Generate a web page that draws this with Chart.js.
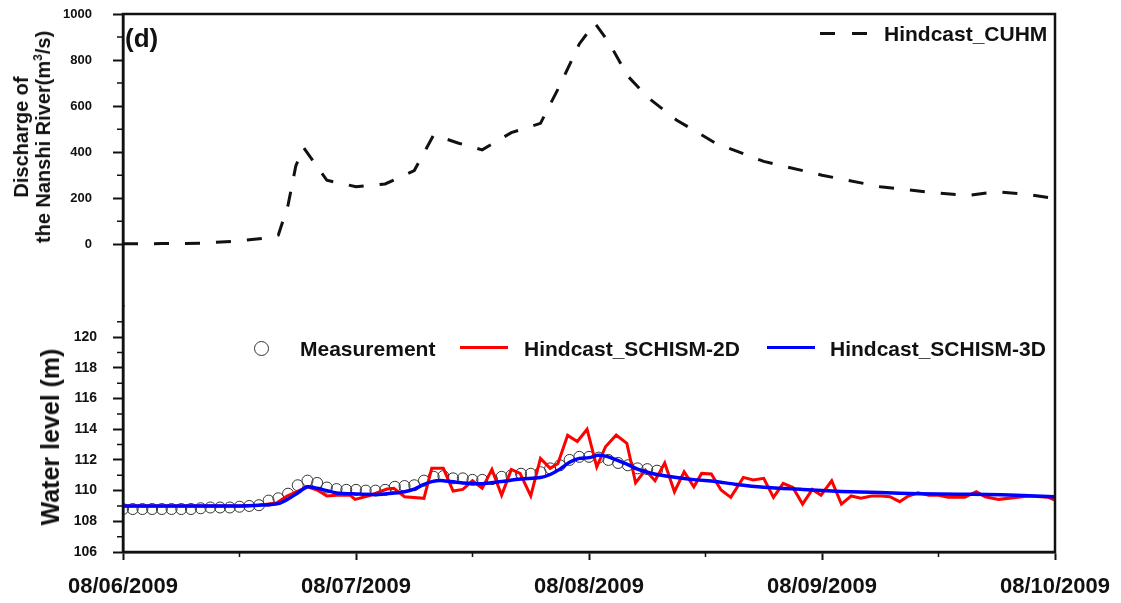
<!DOCTYPE html>
<html lang="en">
<head>
    <meta charset="UTF-8">
    <title>Discharge and water level, Nanshi River</title>
    <style>
        body {
            margin: 0;
            padding: 0;
            background: #fff;
            font-family: "Liberation Sans", Arial, sans-serif;
            overflow: hidden;
        }
        .wrap {
            position: relative;
            width: 1121px;
            height: 603px;
        }
        .lbl {
            position: absolute;
            font-weight: bold;
            color: #111;
            white-space: nowrap;
        }
        .ytitle {
            position: absolute;
            font-weight: bold;
            color: #111;
            white-space: nowrap;
            text-align: center;
            transform: translate(-50%, -50%) rotate(-90deg);
        }
        .sample {
            position: absolute;
            height: 0;
        }
    </style>
    <script src="https://cdn.jsdelivr.net/npm/chart.js"></script>
</head>
<body>

<div class="wrap">
    <canvas id="chart"></canvas>

    <!-- panel label -->
    <div class="lbl" style="left:125px; top:25px; font-size:26px; line-height:26px;">(d)</div>

    <!-- y titles -->
    <div class="ytitle" style="left:32px; top:137px; font-size:20px; line-height:22px;">Discharge of<br>the Nanshi River(m<sup style="font-size:12px; line-height:0;">3</sup>/s)</div>
    <div class="ytitle" style="left:50px; top:437px; font-size:25px; line-height:28px;">Water level (m)</div>

    <!-- top legend -->
    <div class="sample" style="left:820px; top:32px; width:15px; border-top:3px solid #111;"></div>
    <div class="sample" style="left:852px; top:32px; width:15px; border-top:3px solid #111;"></div>
    <div class="lbl" style="left:884px; top:23px; font-size:21px; line-height:21px;">Hindcast_CUHM</div>

    <!-- bottom legend -->
    <div class="sample" style="left:254px; top:341px; width:13px; height:13px; border:1.3px solid #333; border-radius:50%;"></div>
    <div class="lbl" style="left:300px; top:338px; font-size:21px; line-height:21px;">Measurement</div>
    <div class="sample" style="left:460px; top:346px; width:48px; border-top:3px solid #ff0000;"></div>
    <div class="lbl" style="left:524px; top:338px; font-size:21px; line-height:21px;">Hindcast_SCHISM-2D</div>
    <div class="sample" style="left:767px; top:346px; width:48px; border-top:3px solid #0000ff;"></div>
    <div class="lbl" style="left:830px; top:338px; font-size:21px; line-height:21px;">Hindcast_SCHISM-3D</div>
</div>

<script>
    // x axis: hours since 08/06/2009 00:00
    const dayHours = [0, 24, 48, 72, 96];
    const dateLabels = ['08/06/2009', '08/07/2009', '08/08/2009', '08/09/2009', '08/10/2009'];
    const halfDayHours = [12, 36, 60, 84];

    // discharge of the Nanshi River (m3/s), Hindcast_CUHM
    const dischargeHours = [0, 4, 8, 12, 15, 16, 17, 17.8, 18.6, 21, 24, 27, 30, 32, 34.5, 37, 40, 43, 45, 47, 48.6, 50, 52, 54, 57, 61, 66, 72, 78, 84, 87, 90, 93, 96];
    const dischargeValues = [2, 3, 4, 15, 28, 40, 170, 340, 420, 278, 250, 262, 320, 475, 440, 410, 485, 525, 690, 870, 960, 880, 730, 640, 540, 440, 360, 300, 250, 222, 212, 228, 218, 198];

    // water level measurement, hourly from 08/06 00:00
    const measuredLevel = [
        108.8, 108.8, 108.8, 108.8, 108.8, 108.8, 108.8, 108.8, 108.85, 108.9,
        108.9, 108.9, 108.95, 109.0, 109.05, 109.35, 109.5, 109.8, 110.35, 110.65,
        110.5, 110.2, 110.1, 110.05, 110.05, 110.0, 110.0, 110.05, 110.25, 110.3,
        110.35, 110.65, 110.9, 110.95, 110.8, 110.8, 110.7, 110.7, 110.75, 110.9,
        111.0, 111.1, 111.1, 111.2, 111.45, 111.65, 112.0, 112.2, 112.2, 112.15,
        112.0, 111.8, 111.65, 111.45, 111.4, 111.3
    ];

    // Hindcast_SCHISM-2D
    const hours2D = [0, 12, 14, 15.8, 16.9, 19, 20, 21, 22, 23.4, 23.9, 25.5, 27.2, 27.9, 29, 31, 31.8, 33, 34, 35,
        36, 37, 38, 39, 40, 40.9, 42, 43, 44, 44.8, 45.8, 46.8, 47.8, 48.8, 49.7, 50.8, 51.9, 52.8, 53.8, 54.8,
        55.8, 56.8, 57.8, 58.8, 59.6, 60.6, 61.6, 62.6, 63.9, 64.9, 66, 67, 68, 69, 70, 71, 71.9, 73, 74, 75,
        76, 77.1, 78.1, 79, 80, 80.9, 81.9, 83, 84, 85, 86.7, 87.9, 88.8, 90.2, 92.2, 93.3, 95.3, 96];
    const level2D = [109.0, 109.0, 109.05, 109.2, 109.65, 110.25, 110.04, 109.65, 109.7, 109.7, 109.43, 109.7, 110.1, 110.15, 109.6, 109.5, 111.45, 111.45, 109.97, 110.08,
        110.64, 110.15, 111.38, 109.7, 111.38, 111.12, 109.65, 112.1, 111.45, 111.77, 113.6, 113.2, 114.0, 111.55, 112.86, 113.62, 113.08, 110.51, 111.34, 110.64,
        111.8, 109.93, 111.23, 110.25, 111.12, 111.08, 110.04, 109.56, 110.86, 110.69, 110.8, 109.56, 110.47, 110.2, 109.12, 110.08, 109.7, 110.64, 109.12, 109.65,
        109.5, 109.65, 109.65, 109.6, 109.28, 109.65, 109.86, 109.7, 109.7, 109.56, 109.56, 109.93, 109.6, 109.43, 109.56, 109.65, 109.56, 109.38];

    // Hindcast_SCHISM-3D
    const hours3D = [0, 6, 12, 14, 15, 16, 17, 18, 19, 20, 21, 22, 24, 26, 28, 29, 30, 31, 32, 33,
        35, 37, 39, 41, 43, 44, 45, 46, 47, 48, 49, 50, 51, 52, 53, 54, 55, 57, 59, 61,
        63, 66, 70, 74, 78, 82, 86, 89, 92, 96];
    const level3D = [109.0, 109.0, 109.0, 109.05, 109.08, 109.15, 109.45, 109.85, 110.25, 110.15, 110.0, 109.85, 109.78, 109.75, 109.85, 109.93, 110.1, 110.4, 110.62, 110.65,
        110.5, 110.45, 110.6, 110.75, 110.85, 111.05, 111.4, 111.85, 112.1, 112.15, 112.3, 112.2, 111.95, 111.7, 111.4, 111.2, 111.05, 110.85, 110.7, 110.6,
        110.42, 110.22, 110.08, 109.95, 109.87, 109.8, 109.76, 109.75, 109.7, 109.6];

    // axis ticks
    const dischargeTicks = [0, 200, 400, 600, 800, 1000];
    const dischargeMinor = [100, 300, 500, 700, 900];
    const levelTicks = [106, 108, 110, 112, 114, 116, 118, 120];
    const levelMinor = [107, 109, 111, 113, 115, 117, 119, 121];

    const fontFamily = '"Liberation Sans", Arial, sans-serif';

    function pairs(xs, ys) {
        return xs.map((x, i) => ({ x: x, y: ys[i] }));
    }

    // fixed axis sizes so the plot box lands where the figure has it
    function fitY(scale) {
        scale.width = 60;
        scale.paddingTop = 0;
        scale.paddingBottom = 0;
    }

    // short minor ticks and the closed frame round the plot
    const framePlugin = {
        id: 'frame',
        afterDraw(chart) {
            const ctx = chart.ctx;
            const area = chart.chartArea;
            ctx.save();
            ctx.strokeStyle = '#111';
            ctx.lineWidth = 1.5;
            ctx.beginPath();
            const yq = chart.scales.yQ, yw = chart.scales.yW, x = chart.scales.x;
            dischargeMinor.forEach(v => {
                const p = yq.getPixelForValue(v);
                ctx.moveTo(area.left - 6, p); ctx.lineTo(area.left, p);
            });
            levelMinor.forEach(v => {
                const p = yw.getPixelForValue(v);
                ctx.moveTo(area.left - 6, p); ctx.lineTo(area.left, p);
            });
            halfDayHours.forEach(v => {
                const p = x.getPixelForValue(v);
                ctx.moveTo(p, area.bottom); ctx.lineTo(p, area.bottom + 5);
            });
            ctx.stroke();
            ctx.lineWidth = 2.5;
            ctx.strokeRect(area.left, area.top, area.right - area.left, area.bottom - area.top);
            ctx.restore();
        }
    };

    const ctx = document.getElementById('chart').getContext('2d');
    const chart = new Chart(ctx, {
        type: 'line',
        data: {
            datasets: [
                {
                    label: 'Hindcast_SCHISM-3D',
                    data: pairs(hours3D, level3D),
                    yAxisID: 'yW',
                    borderColor: '#0000ff',
                    borderWidth: 3.5,
                    pointRadius: 0,
                    tension: 0.3
                },
                {
                    label: 'Hindcast_SCHISM-2D',
                    data: pairs(hours2D, level2D),
                    yAxisID: 'yW',
                    borderColor: '#ff0000',
                    borderWidth: 3,
                    pointRadius: 0,
                    tension: 0
                },
                {
                    label: 'Measurement',
                    data: measuredLevel.map((v, i) => ({ x: i, y: v })),
                    yAxisID: 'yW',
                    showLine: false,
                    pointRadius: 5.5,
                    pointBorderColor: '#333',
                    pointBorderWidth: 1,
                    pointBackgroundColor: 'rgba(255,255,255,0)'
                },
                {
                    label: 'Hindcast_CUHM',
                    data: pairs(dischargeHours, dischargeValues),
                    yAxisID: 'yQ',
                    borderColor: '#111',
                    borderWidth: 3,
                    borderDash: [15, 16],
                    pointRadius: 0,
                    tension: 0
                }
            ]
        },
        options: {
            responsive: true,
            maintainAspectRatio: false,
            animation: false,
            layout: { padding: { left: 63, right: 66, top: 14, bottom: 0 } },
            plugins: {
                legend: { display: false },
                tooltip: { enabled: false }
            },
            scales: {
                x: {
                    type: 'linear',
                    min: 0,
                    max: 96,
                    afterBuildTicks: scale => { scale.ticks = dayHours.map(v => ({ value: v })); },
                    afterFit: scale => {
                        scale.height = 51;
                        scale.paddingLeft = 0;
                        scale.paddingRight = 0;
                    },
                    ticks: {
                        autoSkip: false,
                        maxRotation: 0,
                        padding: 14,
                        color: '#111',
                        font: { family: fontFamily, size: 22, weight: 'bold' },
                        callback: (v, i) => dateLabels[i]
                    },
                    grid: { drawOnChartArea: false, tickLength: 8, tickWidth: 2, tickColor: '#111' },
                    border: { color: '#111', width: 2.5 }
                },
                yW: {
                    type: 'linear',
                    position: 'left',
                    stack: 'left',
                    stackWeight: 246,
                    min: 106,
                    max: 122,
                    afterBuildTicks: scale => { scale.ticks = levelTicks.map(v => ({ value: v })); },
                    afterFit: fitY,
                    ticks: {
                        autoSkip: false,
                        padding: 16,
                        color: '#111',
                        font: { family: fontFamily, size: 14, weight: 'bold' },
                        callback: v => String(v)
                    },
                    grid: { drawOnChartArea: false, tickLength: 10, tickWidth: 2, tickColor: '#111' },
                    border: { color: '#111', width: 2.5 }
                },
                yQ: {
                    type: 'linear',
                    position: 'left',
                    stack: 'left',
                    stackWeight: 293,
                    min: -270,
                    max: 1000,
                    afterBuildTicks: scale => { scale.ticks = dischargeTicks.map(v => ({ value: v })); },
                    afterFit: fitY,
                    ticks: {
                        autoSkip: false,
                        padding: 21,
                        color: '#111',
                        font: { family: fontFamily, size: 13, weight: 'bold' },
                        callback: v => String(v)
                    },
                    grid: { drawOnChartArea: false, tickLength: 10, tickWidth: 2, tickColor: '#111' },
                    border: { color: '#111', width: 2.5 }
                }
            }
        },
        plugins: [framePlugin]
    });
</script>

</body>
</html>
